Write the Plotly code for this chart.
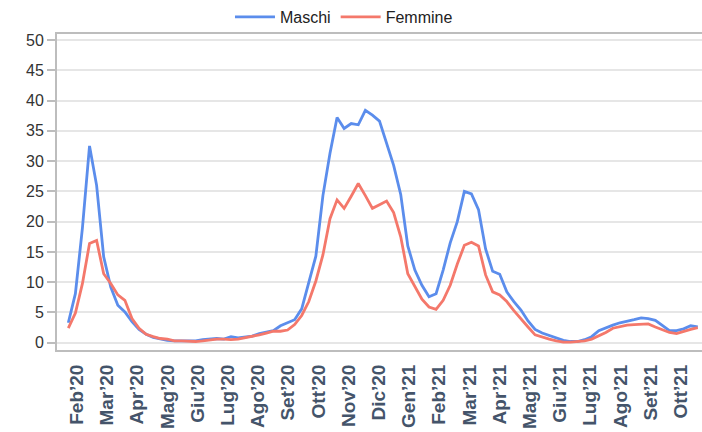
import plotly.graph_objects as go

# Weekly values (index 0 = first week shown)
maschi = [
    3.3, 8.1, 19.0, 32.5, 26.0, 14.2, 9.2, 6.2, 5.1, 3.5,
    2.2, 1.4, 0.9, 0.6, 0.4, 0.3, 0.3, 0.2, 0.3, 0.5,
    0.6, 0.7, 0.6, 1.0, 0.8, 1.0, 1.1, 1.5, 1.8, 2.0,
    2.8, 3.3, 3.8, 5.6, 9.8, 14.3, 24.3, 31.3, 37.2, 35.4,
    36.2, 36.0, 38.4, 37.6, 36.6, 33.0, 29.3, 24.5, 16.0, 12.0,
    9.5, 7.6, 8.1, 12.0, 16.5, 20.0, 25.0, 24.6, 22.0, 15.5,
    11.8, 11.3, 8.4, 6.8, 5.4, 3.6, 2.2, 1.6, 1.2, 0.8,
    0.4, 0.2, 0.2, 0.5, 1.0, 2.0, 2.5, 2.9, 3.3, 3.5,
    3.8, 4.1, 4.0, 3.7, 2.8, 2.0, 2.0, 2.3, 2.8, 2.6,
]
femmine = [
    2.4, 4.9, 9.8, 16.4, 16.9, 11.4, 9.8, 7.9, 7.0, 4.0,
    2.4, 1.4, 1.0, 0.7, 0.6, 0.3, 0.3, 0.2, 0.2, 0.3,
    0.5, 0.6, 0.6, 0.5, 0.6, 0.8, 1.0, 1.3, 1.6, 1.9,
    1.9, 2.1, 3.0, 4.5, 6.8, 10.2, 14.5, 20.5, 23.6, 22.2,
    24.2, 26.3, 24.3, 22.2, 22.8, 23.4, 21.5, 17.5, 11.4, 9.2,
    7.2, 5.9, 5.5, 7.0, 9.5, 13.0, 16.1, 16.6, 16.0, 11.2,
    8.4, 7.9, 6.8, 5.3, 3.9, 2.6, 1.3, 0.9, 0.6, 0.3,
    0.1, 0.1, 0.2, 0.3, 0.6, 1.1, 1.7, 2.4, 2.7, 2.9,
    3.0, 3.0, 3.1, 2.6, 2.1, 1.7, 1.5, 1.9, 2.2, 2.5,
]
mesi = ["Feb’20", "Mar’20", "Apr’20", "Mag’20", "Giu’20", "Lug’20", "Ago’20",
        "Set’20", "Ott’20", "Nov’20", "Dic’20", "Gen’21", "Feb’21", "Mar’21",
        "Apr’21", "Mag’21", "Giu’21", "Lug’21", "Ago’21", "Set’21", "Ott’21"]
y_ticks = [0, 5, 10, 15, 20, 25, 30, 35, 40, 45, 50]

settimane = list(range(len(maschi)))
first_tick = 1.2
weeks_per_label = 4.27
tick_pos = [first_tick + weeks_per_label * k for k in range(len(mesi))]

FONT = "Liberation Sans, Arial, sans-serif"

fig = go.Figure()
fig.add_trace(go.Scatter(x=settimane, y=maschi, mode="lines", name="Maschi",
                         line=dict(color="#5B8DEC", width=2.8)))
fig.add_trace(go.Scatter(x=settimane, y=femmine, mode="lines", name="Femmine",
                         line=dict(color="#F4786B", width=2.8)))

fig.update_layout(
    width=702, height=432,
    margin=dict(l=57, r=0, t=33, b=82),
    plot_bgcolor="white", paper_bgcolor="white",
    font=dict(family=FONT, color="#333333", size=15),
    showlegend=True,
    legend=dict(orientation="h", xref="container", x=0.49, xanchor="center",
                yref="container", y=1.0, yanchor="top",
                font=dict(size=16, color="#222222"), itemwidth=40,
                bgcolor="rgba(0,0,0,0)"),
    xaxis=dict(
        range=[-1.6, 89.6], tickmode="array", tickvals=tick_pos, ticktext=mesi,
        tickangle=-90, showgrid=False, zeroline=False, automargin=False,
        showline=True, linecolor="#BDBDBD", linewidth=2, mirror=True,
        ticks="", ticklabelstandoff=5,
        tickfont=dict(family=FONT, size=19, color="#44546A", weight="bold"),
    ),
    yaxis=dict(
        range=[-1.2, 51.0], tickmode="array", tickvals=y_ticks, automargin=False,
        showgrid=True, gridcolor="#E6E6E6", gridwidth=1.5, zeroline=False,
        showline=True, linecolor="#BDBDBD", linewidth=2,
        ticks="outside", ticklen=8, tickcolor="#BDBDBD", tickwidth=1.5,
        tickfont=dict(family=FONT, size=16, color="#333333"),
    ),
)

fig.write_html(
    "out.html",
    config={"displayModeBar": False},
    post_script="document.body.style.margin='0';document.body.style.overflow='hidden';",
)
